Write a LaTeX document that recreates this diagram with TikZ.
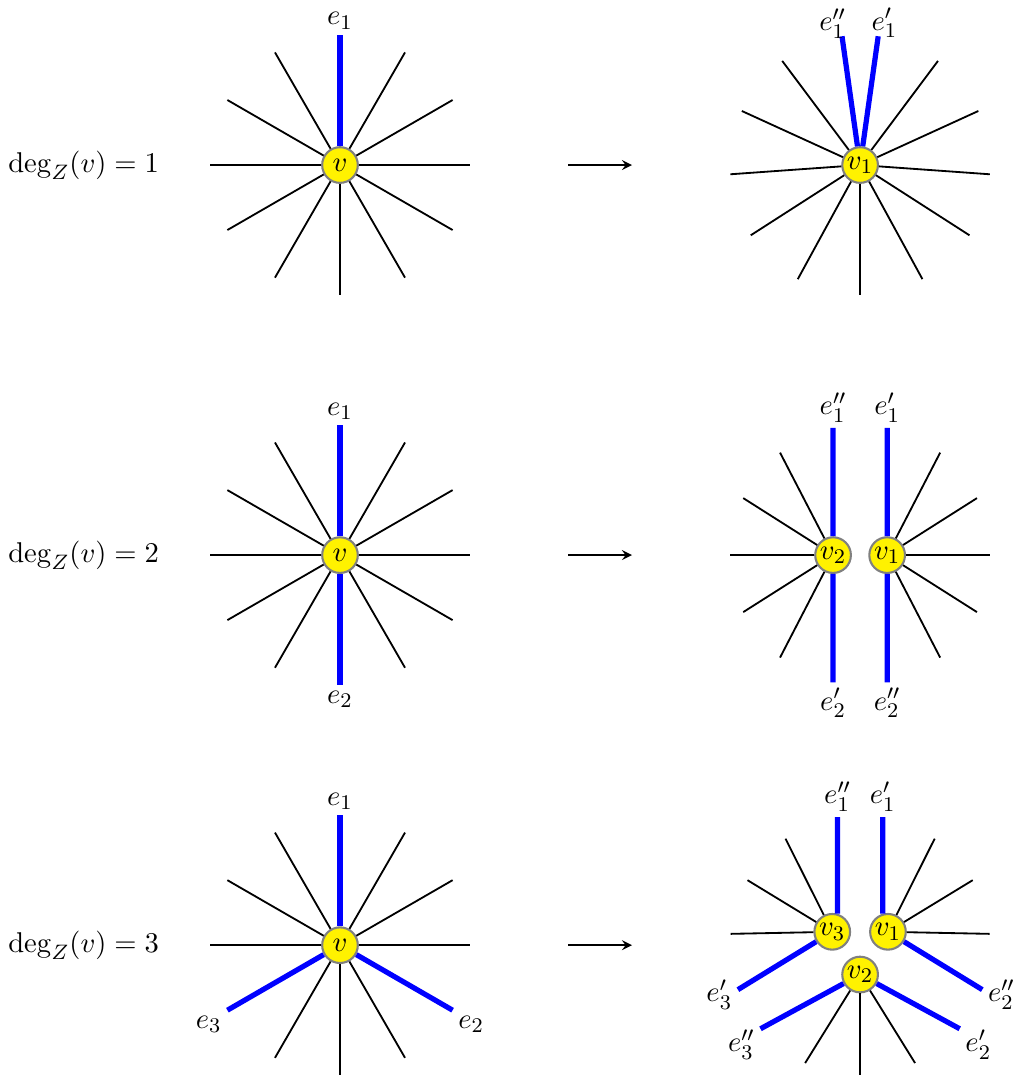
\documentclass[11pt,tikz,border=0pt]{standalone}
\usepackage{tikz}
\usepackage{amsmath}
\usetikzlibrary{arrows,positioning,calc}

\begin{document}
\begin{tikzpicture}[
vtx/.style={circle, draw=gray, line width=0.8pt, fill=yellow, minimum size=0.48cm, inner sep=0pt},
edge/.style={black, line width=0.7pt},
hedge/.style={blue, line width=2pt},
lbl/.style={inner sep=2pt},
mapsto/.style={-stealth, line width=0.7pt}
]

\useasboundingbox (-4.576,2.221) rectangle (9.085,-12.301);

% Row 1: degree one
\node (deg1) at (-3.45,0) {$\deg_Z(v) = 1$};
\node[vtx] (a1) at (0,0) {$v$};
\foreach \k in {0,...,11}
  \coordinate (a1-\k) at ($(a1)+(\k*30:1.75)$);
\foreach \k in {0,1,2,4,5,...,11}
  \draw[edge] (a1) -- (a1-\k);
\draw[hedge] (a1) -- (a1-3);
\node[above, lbl] (a1-l3) at (a1-3) {$e_1$};

\coordinate (arr1s) at (3.07,0);
\coordinate (arr1e) at (3.93,0);
\draw[mapsto] (arr1s) -- (arr1e);

\node[vtx] (b1) at (7,0) {$v_1$};
\foreach \k in {0,...,10} {
  \coordinate (b1-\k) at ($(b1)+(53.2-\k*28.64:1.75)$);
  \draw[edge] (b1) -- (b1-\k);
}
\coordinate (b1-a) at ($(b1)+(82:1.75)$);
\coordinate (b1-b) at ($(b1)+(98:1.75)$);
\draw[hedge] (b1) -- (b1-a);
\draw[hedge] (b1) -- (b1-b);
\node (b1-la) at ($(b1)+(80.3:1.94)$) {$e_1'$};
\node (b1-lb) at ($(b1)+(101:1.94)$) {$e_1''$};

% Row 2: degree two
\node (deg2) at (-3.45,-5.25) {$\deg_Z(v) = 2$};
\node[vtx] (a2) at (0,-5.25) {$v$};
\foreach \k in {0,...,11}
  \coordinate (a2-\k) at ($(a2)+(\k*30:1.75)$);
\foreach \k in {0,1,2,4,5,6,7,8,10,11}
  \draw[edge] (a2) -- (a2-\k);
\draw[hedge] (a2) -- (a2-3);
\draw[hedge] (a2) -- (a2-9);
\node[above, lbl] (a2-l3) at (a2-3) {$e_1$};
\node[below, lbl] (a2-l9) at (a2-9) {$e_2$};

\coordinate (arr2s) at (3.07,-5.25);
\coordinate (arr2e) at (3.93,-5.25);
\draw[mapsto] (arr2s) -- (arr2e);

\coordinate (m2) at (7,-5.25);
\node[vtx] (c2) at ($(m2)+(-0.364,0)$) {$v_2$};
\node[vtx] (c1) at ($(m2)+(0.364,0)$) {$v_1$};
\foreach \k in {0,...,4} {
  \coordinate (c1-\k) at ($(m2)+(52-\k*26:1.75)$);
  \draw[edge] (c1) -- (c1-\k);
  \coordinate (c2-\k) at ($(m2)+(128+\k*26:1.75)$);
  \draw[edge] (c2) -- (c2-\k);
}
\coordinate (c1-up) at ($(m2)+(78:1.75)$);
\coordinate (c1-dn) at ($(m2)+(282:1.75)$);
\coordinate (c2-up) at ($(m2)+(102:1.75)$);
\coordinate (c2-dn) at ($(m2)+(258:1.75)$);
\draw[hedge] (c1) -- (c1-up);
\draw[hedge] (c1) -- (c1-dn);
\draw[hedge] (c2) -- (c2-up);
\draw[hedge] (c2) -- (c2-dn);
\node[above, lbl] (c1-lu) at (c1-up) {$e_1'$};
\node[above, lbl] (c2-lu) at (c2-up) {$e_1''$};
\node[below, lbl] (c2-ld) at (c2-dn) {$e_2'$};
\node[below, lbl] (c1-ld) at (c1-dn) {$e_2''$};

% Row 3: degree three
\node (deg3) at (-3.45,-10.5) {$\deg_Z(v) = 3$};
\node[vtx] (a3) at (0,-10.5) {$v$};
\foreach \k in {0,...,11}
  \coordinate (a3-\k) at ($(a3)+(\k*30:1.75)$);
\foreach \k in {0,1,2,4,5,6,8,9,10}
  \draw[edge] (a3) -- (a3-\k);
\draw[hedge] (a3) -- (a3-3);
\draw[hedge] (a3) -- (a3-7);
\draw[hedge] (a3) -- (a3-11);
\node[above, lbl] (a3-l3) at (a3-3) {$e_1$};
\node[anchor=north east, lbl] (a3-l7) at (a3-7) {$e_3$};
\node[anchor=north west, lbl] (a3-l11) at (a3-11) {$e_2$};

\coordinate (arr3s) at (3.07,-10.5);
\coordinate (arr3e) at (3.93,-10.5);
\draw[mapsto] (arr3s) -- (arr3e);

\coordinate (m3) at (7,-10.5);
\node[vtx] (d3) at ($(m3)+(-0.375,0.18)$) {$v_3$};
\node[vtx] (d1) at ($(m3)+(0.375,0.18)$) {$v_1$};
\node[vtx] (d2) at ($(m3)+(0,-0.395)$) {$v_2$};
\foreach \k in {0,1,2} {
  \coordinate (d1-\k) at ($(m3)+(55-\k*25:1.75)$);
  \draw[edge] (d1) -- (d1-\k);
  \coordinate (d3-\k) at ($(m3)+(125+\k*25:1.75)$);
  \draw[edge] (d3) -- (d3-\k);
  \coordinate (d2-\k) at ($(m3)+(245+\k*25:1.75)$);
  \draw[edge] (d2) -- (d2-\k);
}
\coordinate (d1-up) at ($(m3)+(80:1.75)$);
\coordinate (d3-up) at ($(m3)+(100:1.75)$);
\coordinate (d3-lo) at ($(m3)+(200:1.75)$);
\coordinate (d2-lo) at ($(m3)+(220:1.75)$);
\coordinate (d2-ro) at ($(m3)+(320:1.75)$);
\coordinate (d1-ro) at ($(m3)+(340:1.75)$);
\draw[hedge] (d1.106) -- (d1-up);
\draw[hedge] (d3.74) -- (d3-up);
\draw[hedge] (d3) -- (d3-lo);
\draw[hedge] (d2) -- (d2-lo);
\draw[hedge] (d2) -- (d2-ro);
\draw[hedge] (d1) -- (d1-ro);
\node[above, lbl] (d1-lu) at (d1-up) {$e_1'$};
\node[above, lbl] (d3-lu) at (d3-up) {$e_1''$};
\node[anchor=15, lbl] (d3-ll) at (d3-lo) {$e_3'$};
\node[anchor=40, lbl] (d2-ll) at (d2-lo) {$e_3''$};
\node[anchor=140, lbl] (d2-lr) at (d2-ro) {$e_2'$};
\node[anchor=165, lbl] (d1-lr) at (d1-ro) {$e_2''$};

\end{tikzpicture}
\end{document}
